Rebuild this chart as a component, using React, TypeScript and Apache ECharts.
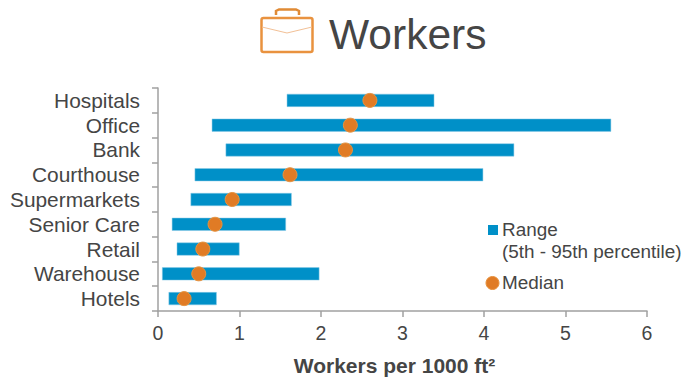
import React, { useEffect, useRef } from "react";
import * as echarts from "echarts";

const categories = ["Hospitals", "Office", "Bank", "Courthouse", "Supermarkets", "Senior Care", "Retail", "Warehouse", "Hotels"];
const p5 = [1.58, 0.66, 0.83, 0.45, 0.40, 0.17, 0.23, 0.05, 0.13];
const p95 = [3.39, 5.56, 4.37, 3.99, 1.64, 1.57, 1.00, 1.98, 0.72];
const medians = [2.60, 2.36, 2.30, 1.62, 0.91, 0.70, 0.55, 0.50, 0.32];
const xTicks = [0, 6];

const BLUE = "#0090c8";
const ORANGE = "#e07b25";
const TEXT = "#454545";
const AXIS = "#a0a0a0";
const FONT = "Liberation Sans";

export default function App() {
  const ref = useRef<HTMLDivElement>(null);
  useEffect(() => {
    const chart = echarts.init(ref.current!, null, { renderer: "svg" });
    chart.setOption({
      animation: false,
      backgroundColor: "#fff",
      grid: { left: 158, right: 49, top: 88, bottom: 67, outerBoundsMode: "none" },
      xAxis: {
        type: "value",
        min: xTicks[0],
        max: xTicks[1],
        interval: 1,
        name: "Workers per 1000 ft²",
        nameLocation: "middle",
        nameGap: 44,
        nameTextStyle: { fontFamily: FONT, fontSize: 21, fontWeight: "bold", color: TEXT, padding: [0, 16, 0, 0] },
        axisLine: { show: true, lineStyle: { color: AXIS, width: 1.5 } },
        axisTick: { show: true, length: 6, lineStyle: { color: AXIS, width: 1.5 } },
        axisLabel: { fontFamily: FONT, fontSize: 19.5, color: TEXT, margin: 12 },
        splitLine: { show: false },
      },
      yAxis: {
        type: "category",
        inverse: true,
        data: categories,
        axisLine: { show: true, onZero: false, lineStyle: { color: AXIS, width: 1.5 } },
        axisTick: { show: true, length: 6, lineStyle: { color: AXIS, width: 1.5 } },
        axisLabel: { interval: 0, fontFamily: FONT, fontSize: 20.9, color: TEXT, margin: 18, padding: [0, 0, 4, 0] },
      },
      series: [
        {
          name: "5th percentile",
          type: "bar",
          stack: "range",
          barWidth: 13,
          silent: true,
          itemStyle: { color: "transparent" },
          data: p5,
        },
        {
          name: "Range",
          type: "bar",
          stack: "range",
          barWidth: 13,
          itemStyle: { color: BLUE, borderColor: "#8ccbe6", borderWidth: 0.5 },
          data: p95.map((v, i) => +(v - p5[i]).toFixed(2)),
        },
        {
          name: "Median",
          type: "scatter",
          symbol: "circle",
          symbolSize: 14,
          itemStyle: { color: ORANGE, borderColor: "#e8933f", borderWidth: 1, opacity: 1 },
          z: 5,
          data: medians.map((m, i) => [m, categories[i]]),
        },
      ],
      graphic: [
        // Briefcase icon beside the title
        { type: "rect", shape: { x: 261.5, y: 18, width: 51, height: 34, r: 2 }, style: { fill: "#fff", stroke: "#e9923f", lineWidth: 2.5 } },
        { type: "polyline", shape: { points: [[262, 27], [287, 33], [312, 27]] }, style: { fill: "none", stroke: "#f2c096", lineWidth: 1 } },
        { type: "polyline", shape: { points: [[276, 15], [276, 11], [279, 9.5], [296, 9.5], [299, 11], [299, 15]] }, style: { fill: "none", stroke: "#e08a35", lineWidth: 2.5 } },
        { type: "text", x: 329, y: 13, style: { text: "Workers", fontFamily: FONT, fontSize: 42.5, fill: TEXT } },
        // Legend, placed by hand so the swatch lines up with the first of two lines
        { type: "rect", shape: { x: 488, y: 225, width: 10, height: 10 }, style: { fill: BLUE } },
        { type: "text", x: 502, y: 220, style: { text: "Range", fontFamily: FONT, fontSize: 18.9, fill: TEXT } },
        { type: "text", x: 502, y: 242, style: { text: "(5th - 95th percentile)", fontFamily: FONT, fontSize: 18.9, fill: TEXT } },
        { type: "circle", shape: { cx: 492.5, cy: 283, r: 6.5 }, style: { fill: ORANGE, stroke: "#e8933f", lineWidth: 1 } },
        { type: "text", x: 502, y: 273, style: { text: "Median", fontFamily: FONT, fontSize: 18.9, fill: TEXT } },
      ],
    });
    return () => chart.dispose();
  }, []);
  return <div ref={ref} style={{ position: "absolute", left: 0, top: 0, width: 696, height: 378 }} />;
}
